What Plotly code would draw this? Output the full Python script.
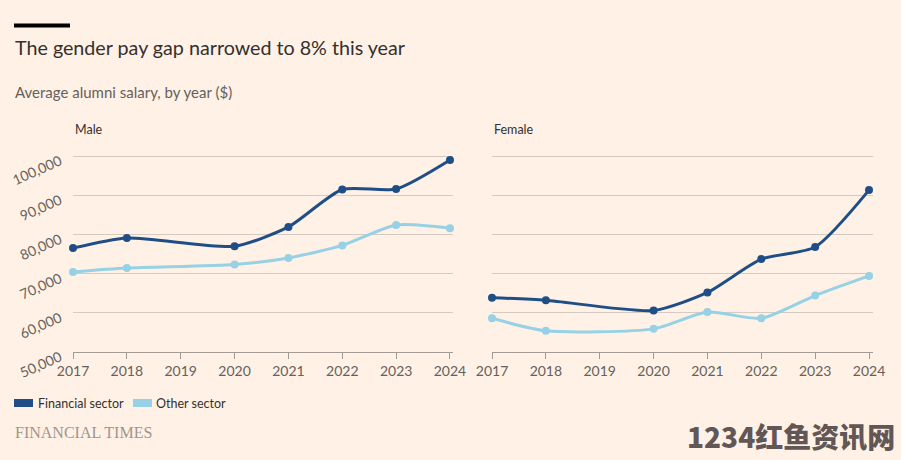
import plotly.graph_objects as go

W, H = 901, 460
years = [2017, 2018, 2020, 2021, 2022, 2023, 2024]
tick_years = [2017, 2018, 2019, 2020, 2021, 2022, 2023, 2024]
male_fin = [76500, 79100, 77000, 81900, 91450, 91600, 99000]
male_oth = [70400, 71400, 72300, 74000, 77200, 82400, 81600]
fem_fin = [63850, 63200, 60600, 65200, 73700, 76800, 91300]
fem_oth = [58600, 55400, 55900, 60200, 58600, 64400, 69400]
y_ticks = [50000, 60000, 70000, 80000, 90000, 100000]
series_names = ["Financial sector", "Other sector"]

BG = "#fff1e5"
DARK = "#1f4e87"
LIGHT = "#96d1e6"
GRID = "#d6cbc1"
TXT = "#33302e"
SUB = "#66605c"
FONT = "Lato"

def px(x):
    return x / W

def py(y):
    return 1 - y / H

fig = go.Figure()

panels = [("x", "y", male_fin, male_oth), ("x2", "y2", fem_fin, fem_oth)]
for xa, ya, fin, oth in panels:
    for vals, col in [(oth, LIGHT), (fin, DARK)]:
        fig.add_trace(go.Scatter(
            x=years, y=vals, xaxis=xa, yaxis=ya, mode="lines+markers",
            line=dict(color=col, width=3, shape="spline", smoothing=0.65),
            marker=dict(color=col, size=8), showlegend=False,
            cliponaxis=False, hoverinfo="x+y"))

ydom = [py(352), py(154.04)]
xcommon = dict(tickmode="array", tickvals=tick_years, ticktext=[str(t) for t in tick_years],
               showgrid=False, zeroline=False, showline=True, linecolor="#a39a93", linewidth=1,
               ticks="outside", ticklen=6, tickcolor="#a39a93", automargin=False,
               tickfont=dict(family=FONT, size=14, color=SUB))
ycommon = dict(range=[50000, 100500], tickvals=y_ticks, showgrid=True, gridcolor=GRID,
               gridwidth=1, zeroline=False, showline=False, domain=ydom, automargin=False)

fig.update_layout(
    width=W, height=H, paper_bgcolor=BG, plot_bgcolor=BG,
    margin=dict(l=0, r=0, t=0, b=0, autoexpand=False),
    xaxis=dict(domain=[px(73), px(453)], range=[2017, 2024.056], anchor="y", **xcommon),
    xaxis2=dict(domain=[px(492), px(873)], range=[2017, 2024.074], anchor="y2", **xcommon),
    yaxis=dict(anchor="x", tickformat=",", tickangle=-24, ticks="",
               ticklabelstandoff=12, ticklabelshift=4,
               tickfont=dict(family=FONT, size=14, color=SUB), **ycommon),
    yaxis2=dict(anchor="x2", showticklabels=False, **ycommon),
    showlegend=False,
)

# top black bar
fig.add_shape(type="line", xref="paper", yref="paper", x0=px(14), x1=px(70),
              y0=py(25.5), y1=py(25.5), line=dict(color="#000000", width=4))

ann = [
    dict(text="The gender pay gap narrowed to 8% this year", x=px(13), y=py(48),
         font=dict(family=FONT, size=19.7, color=TXT)),
    dict(text="Average alumni salary, by year ($)", x=px(13), y=py(92),
         font=dict(family=FONT, size=15, color=SUB)),
    dict(text="Male", x=px(73), y=py(129), font=dict(family=FONT, size=12.5, color=TXT)),
    dict(text="Female", x=px(492), y=py(129), font=dict(family=FONT, size=12.5, color=TXT)),
    dict(text=series_names[0], x=px(36), y=py(403), font=dict(family=FONT, size=12.5, color=TXT)),
    dict(text=series_names[1], x=px(154), y=py(403), font=dict(family=FONT, size=12.5, color=TXT)),
    dict(text="FINANCIAL TIMES", x=px(13), y=py(432),
         font=dict(family="Liberation Serif", size=16, color="#a0958e")),
    dict(text="1234红鱼资讯网", x=px(685), y=py(436),
         font=dict(family="Noto Sans CJK SC", size=28, color="#625656", weight=900)),
]
for a in ann:
    fig.add_annotation(xref="paper", yref="paper", xanchor="left", yanchor="middle",
                       showarrow=False, **a)

for x0, col in [(14, DARK), (133, LIGHT)]:
    fig.add_shape(type="rect", xref="paper", yref="paper", x0=px(x0), x1=px(x0 + 19),
                  y0=py(407), y1=py(399), fillcolor=col, line=dict(width=0))

fig.write_html("out.html")
